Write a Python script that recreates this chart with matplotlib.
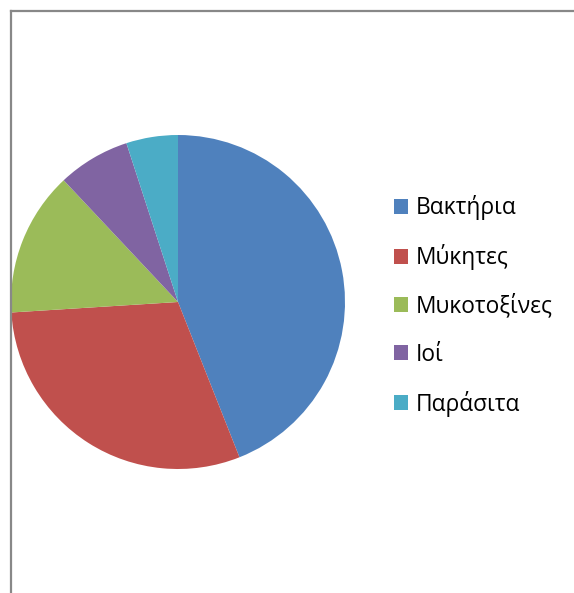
import matplotlib
matplotlib.use('Agg')
import matplotlib.pyplot as plt
from matplotlib.lines import Line2D

# share of each pathogen group (percent)
labels = ['Βακτήρια', 'Μύκητες', 'Μυκοτοξίνες', 'Ιοί', 'Παράσιτα']
shares = [44, 30, 14, 7, 5]
colors = ['#4F81BD', '#C0504D', '#9BBB59', '#8064A2', '#4BACC6']

plt.rcParams['font.family'] = ['Open Sans', 'DejaVu Sans']

W, H = 574, 593
fig = plt.figure(figsize=(W / 100, H / 100), dpi=100)
fig.patch.set_facecolor('white')

# pie centred at (178, 302) px, radius 167 px
cx, cy, r = 178, 302, 167
ax = fig.add_axes([(cx - r) / W, (H - cy - r) / H, 2 * r / W, 2 * r / H])
wedges, _ = ax.pie(shares, colors=colors, startangle=90, counterclock=False,
                   wedgeprops=dict(linewidth=0))
ax.set_xlim(-1, 1)
ax.set_ylim(-1, 1)
ax.set_aspect('equal')
ax.axis('off')

fig.legend(wedges, labels, loc='center left',
           bbox_to_anchor=(385 / W, 1 - 306 / H), frameon=False,
           fontsize=16.4, handlelength=0.62, handleheight=0.62,
           handletextpad=0.35, labelspacing=1.05, borderaxespad=0)

# chart-area border: left and top edges only
grey = '#888888'
fig.add_artist(Line2D([11 / W, 11 / W], [0, 1 - 11 / H], color=grey, lw=1.6,
                      transform=fig.transFigure))
fig.add_artist(Line2D([11 / W, 1], [1 - 11 / H, 1 - 11 / H], color=grey, lw=1.6,
                      transform=fig.transFigure))

fig.savefig('out.png', dpi=100)
